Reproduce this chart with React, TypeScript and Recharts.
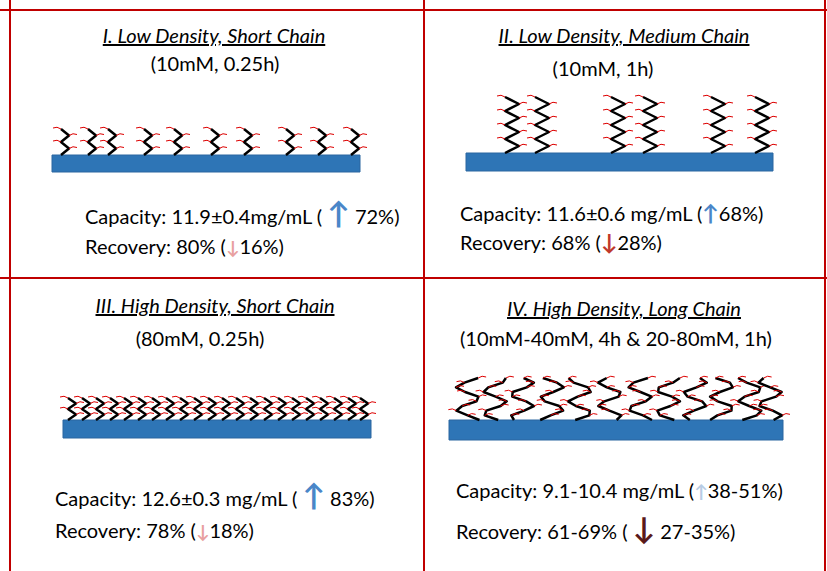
import { ComposedChart, XAxis, YAxis, Scatter, ReferenceArea, ReferenceLine } from 'recharts'

const W = 827
const H = 571

// substrate bars [x1, x2, y1, y2]
const substrates = [
  [52, 360, 155, 172],
  [466, 773, 153, 171],
  [63, 371, 420, 438],
  [449, 783, 420, 440],
]

// grafted chains: base x, base y, height, style
const chainsI = [65, 92, 112, 148, 178, 215, 248, 290, 322, 355].map((x) => ({ x, y: 155, h: 26, k: 0 }))
const chainsII = [512, 542, 618, 650, 718, 762].map((x) => ({ x, y: 153, h: 56, k: 1 }))
const chainsIII = [72, 86, 100, 114, 128, 142, 156, 170, 184, 198, 212, 226, 240, 254, 268, 282, 296, 310, 324, 338, 352, 364].map((x) => ({ x, y: 420, h: 22, k: 0 }))
const chainsIV = [468, 495, 522, 552, 580, 610, 640, 668, 695, 722, 750, 770].map((x) => ({ x, y: 420, h: 42, k: 2 }))
const chains = [...chainsI, ...chainsII, ...chainsIII, ...chainsIV]

const Chain = (props: any) => {
  const { cx, cy, payload, index } = props
  const h = payload.h
  const pts: string[] = []
  const reds: any[] = []
  const n = payload.k === 1 ? 8 : payload.k === 2 ? 9 : 4
  for (let i = 0; i <= n; i++) {
    let dx: number
    if (payload.k === 2) dx = Math.cos(i * 1.3 + index) * 12
    else dx = (i % 2 === 0 ? -1 : 1) * (payload.k === 1 ? 7 : 4)
    const px = cx + dx
    const py = cy - (h * i) / n
    pts.push(`${px},${py}`)
    if (i > 0) {
      const s = i % 2 ? 1 : -1
      reds.push(<path key={i} d={`M${px},${py} q${s * 4},-3 ${s * 8},-1`} stroke="#d00" strokeWidth={1} fill="none" />)
    }
  }
  return (
    <g>
      <polyline points={pts.join(' ')} stroke="#000" strokeWidth={2.5} fill="none" strokeLinejoin="round" />
      {reds}
    </g>
  )
}

const font = 'Lato, "Open Sans", sans-serif'
const t = (x: number, y: number, text: any, extra: any = {}) => (
  <div style={{ position: 'absolute', left: x, top: y, fontSize: 20, lineHeight: '26px', fontFamily: font, whiteSpace: 'nowrap', ...extra }}>{text}</div>
)
const up = (c: string, s = 24) => <span style={{ color: c, fontWeight: 700, fontSize: s, lineHeight: '20px' }}>↑</span>
const down = (c: string, s = 24) => <span style={{ color: c, fontWeight: 700, fontSize: s, lineHeight: '20px' }}>↓</span>
const title = { fontStyle: 'italic', textDecoration: 'underline', transform: 'translateX(-50%)' }
const center = { transform: 'translateX(-50%)' }

export default function App() {
  return (
    <div style={{ position: 'absolute', left: 0, top: 0, width: W, height: H, background: '#fff' }}>
      <ComposedChart width={W} height={H} data={chains} margin={{ top: 0, right: 0, bottom: 0, left: 0 }}>
        <XAxis type="number" dataKey="x" domain={[0, W]} hide />
        <YAxis type="number" dataKey="y" domain={[0, H]} reversed hide />
        {substrates.map((s, i) => (
          <ReferenceArea key={i} x1={s[0]} x2={s[1]} y1={s[2]} y2={s[3]} fill="#2e75b6" fillOpacity={1} stroke="#2a67a0" />
        ))}
        <Scatter data={chains} shape={<Chain />} isAnimationActive={false} />
        <ReferenceLine x={10} stroke="#c00000" strokeWidth={2} />
        <ReferenceLine x={424} stroke="#c00000" strokeWidth={2} />
        <ReferenceLine x={825} stroke="#c00000" strokeWidth={2} />
        <ReferenceLine y={10} stroke="#c00000" strokeWidth={2} />
        <ReferenceLine y={278} stroke="#c00000" strokeWidth={2} />
      </ComposedChart>
      {t(214, 22, 'I. Low Density, Short Chain', title)}
      {t(215, 50, '(10mM, 0.25h)', center)}
      {t(85, 202, <>Capacity: 11.9±0.4mg/mL ( {up('#4a86c8', 30)} 72%)</>)}
      {t(85, 233, <>Recovery: 80% ({down('#e8a0a0', 18)}16%)</>)}
      {t(624, 22, 'II. Low Density, Medium Chain', title)}
      {t(603, 55, '(10mM, 1h)', center)}
      {t(460, 200, <>Capacity: 11.6±0.6 mg/mL ({up('#4a86c8', 22)}68%)</>)}
      {t(460, 229, <>Recovery: 68% ({down('#c0392b', 22)}28%)</>)}
      {t(215, 292, 'III. High Density, Short Chain', title)}
      {t(200, 325, '(80mM, 0.25h)', center)}
      {t(55, 484, <>Capacity: 12.6±0.3 mg/mL ( {up('#4a86c8', 30)} 83%)</>)}
      {t(55, 517, <>Recovery: 78% ({down('#e8a0a0', 18)}18%)</>)}
      {t(624, 295, 'IV. High Density, Long Chain', title)}
      {t(460, 325, '(10mM-40mM, 4h & 20-80mM, 1h)')}
      {t(456, 477, <>Capacity: 9.1-10.4 mg/mL ({up('#b8cce4', 18)}38-51%)</>)}
      {t(456, 517, <>Recovery: 61-69% ( {down('#5a1a1a', 30)} 27-35%)</>)}
    </div>
  )
}
